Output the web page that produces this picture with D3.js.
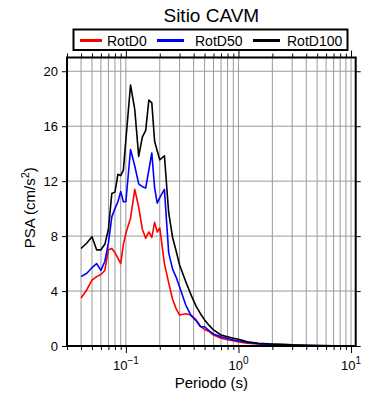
<!DOCTYPE html>
<html>
<head>
<meta charset="utf-8">
<script src="https://cdn.jsdelivr.net/npm/d3@7"></script>
<style>
  body { margin: 0; background: #fff; }
  svg { font-family: "Liberation Sans", Arial, sans-serif; }
</style>
</head>
<body>
<div id="container"></div>
<script>
// periodos (s)
const periods = [0.04, 0.045, 0.05, 0.055, 0.06, 0.065, 0.07, 0.075, 0.08, 0.085,
  0.09, 0.095, 0.1, 0.11, 0.12, 0.13, 0.14, 0.15, 0.16, 0.17,
  0.18, 0.19, 0.2, 0.22, 0.24, 0.26, 0.28, 0.3, 0.34, 0.38,
  0.42, 0.46, 0.5, 0.55, 0.6, 0.7, 0.8, 0.9, 1.0, 1.2,
  1.5, 2.0, 2.5, 3.0, 4.0, 5.0, 7.0, 10.0];

const rotD0 = [3.5, 4.1, 4.8, 5.05, 5.2, 5.5, 7.0, 7.1, 6.8, 6.4,
  6.0, 7.4, 8.2, 9.3, 11.4, 10.1, 8.5, 7.85, 8.3, 7.9,
  9.0, 8.3, 8.6, 6.0, 4.6, 3.4, 2.7, 2.25, 2.35, 2.25,
  1.9, 1.45, 1.2, 1.05, 0.8, 0.56, 0.45, 0.38, 0.3, 0.2,
  0.14, 0.09, 0.06, 0.05, 0.03, 0.02, 0.01, 0.01];

const rotD50 = [5.05, 5.3, 5.7, 6.0, 5.5, 6.15, 7.5, 9.4, 10.0, 10.5,
  11.25, 10.5, 10.5, 14.3, 13.1, 11.8, 11.6, 11.5, 12.8, 14.05,
  11.5, 10.4, 10.8, 11.4, 6.8, 5.6, 5.0, 4.3, 3.0, 2.2,
  1.85, 1.4, 1.4, 1.1, 0.88, 0.68, 0.55, 0.44, 0.38, 0.25,
  0.17, 0.11, 0.08, 0.06, 0.04, 0.03, 0.02, 0.01];

const rotD100 = [7.1, 7.5, 7.95, 7.0, 7.0, 7.4, 8.5, 11.1, 11.2, 12.5,
  12.4, 12.8, 15.0, 19.0, 17.2, 13.8, 15.2, 15.7, 17.9, 17.7,
  14.9, 14.2, 13.55, 13.85, 9.7, 7.9, 6.9, 5.9, 4.7, 3.7,
  2.9, 2.35, 1.9, 1.5, 1.17, 0.8, 0.68, 0.56, 0.49, 0.31,
  0.2, 0.15, 0.12, 0.08, 0.05, 0.03, 0.02, 0.01];

const seriesNames = ["RotD0", "RotD50", "RotD100"];
const seriesColors = ["#ff0000", "#0000ff", "#000000"];
const yTicks = [0, 4, 8, 12, 16, 20];
const xMajor = [0.1, 1, 10];
const xExp = ["\u22121", "0", "1"];

const W = 390, H = 400;
const pL = 67, pR = 355.7, pT = 57.5, pB = 346;

const svg = d3.select("#container").append("svg")
  .attr("width", W).attr("height", H);

const x = d3.scaleLog().domain([0.03, 11]).range([pL, pR]);
const y = d3.scaleLinear().domain([0, 21]).range([pB, pT]);

// grid
const xGrid = x.ticks().filter(d => d > 0.031);
svg.append("g").selectAll("line").data(xGrid).join("line")
  .attr("x1", d => x(d)).attr("x2", d => x(d))
  .attr("y1", pT).attr("y2", pB)
  .attr("stroke", "#9a9a9a").attr("stroke-width", 1);
svg.append("g").selectAll("line").data(yTicks.filter(d => d > 0)).join("line")
  .attr("x1", pL).attr("x2", pR)
  .attr("y1", d => y(d)).attr("y2", d => y(d))
  .attr("stroke", "#9a9a9a").attr("stroke-width", 1);

// curves
svg.append("clipPath").attr("id", "clip").append("rect")
  .attr("x", pL).attr("y", pT).attr("width", pR - pL).attr("height", pB - pT);

const allSeries = [rotD0, rotD50, rotD100];
const line = d3.line().x((d, i) => x(periods[i])).y(d => y(d));
svg.append("g").attr("clip-path", "url(#clip)")
  .selectAll("path").data(allSeries).join("path")
  .attr("d", d => line(d))
  .attr("fill", "none")
  .attr("stroke", (d, i) => seriesColors[i])
  .attr("stroke-width", 1.6)
  .attr("stroke-linejoin", "round");

// axes
const gB = svg.append("g").attr("transform", `translate(0,${pB})`)
  .call(d3.axisBottom(x).tickValues(x.ticks()).tickFormat("").tickSizeOuter(0).tickSize(4));
const gT = svg.append("g").attr("transform", `translate(0,${pT})`)
  .call(d3.axisTop(x).tickValues(x.ticks()).tickFormat("").tickSizeOuter(0).tickSize(4));
gB.select(".domain").remove();
gT.select(".domain").remove();
gB.selectAll(".tick line").attr("stroke", "#000").attr("y2", d => xMajor.includes(d) ? 7 : 4);
gT.selectAll(".tick line").attr("stroke", "#000").attr("y2", d => xMajor.includes(d) ? -7 : -4);

const gL = svg.append("g").attr("transform", `translate(${pL},0)`)
  .call(d3.axisLeft(y).tickValues(yTicks).tickSize(5).tickPadding(4));
gL.select(".domain").remove();
gL.selectAll(".tick text").attr("font-size", 13)
  .attr("font-family", "Liberation Sans, Arial, sans-serif").attr("fill", "#000");
const gR = svg.append("g").attr("transform", `translate(${pR},0)`)
  .call(d3.axisRight(y).tickValues(yTicks).tickSize(5).tickFormat(""));
gR.select(".domain").remove();

// x labels with exponent
const xl = svg.append("g").selectAll("text").data(xMajor).join("text")
  .attr("x", d => x(d)).attr("y", 370)
  .attr("text-anchor", "middle").attr("font-size", 13);
xl.append("tspan").text("10");
xl.append("tspan").attr("dy", -6).attr("font-size", 10).text((d, i) => xExp[i]);

// frame
svg.append("rect").attr("x", pL).attr("y", pT)
  .attr("width", pR - pL).attr("height", pB - pT)
  .attr("fill", "none").attr("stroke", "#000").attr("stroke-width", 2);

// title and labels
svg.append("text").attr("x", (pL + pR) / 2).attr("y", 22)
  .attr("text-anchor", "middle").attr("font-size", 19).text("Sitio CAVM");

svg.append("text").attr("x", (pL + pR) / 2).attr("y", 388)
  .attr("text-anchor", "middle").attr("font-size", 15).text("Periodo (s)");

const yl = svg.append("text").attr("transform", `translate(35,${(pT + pB) / 2 + 6}) rotate(-90)`)
  .attr("text-anchor", "middle").attr("font-size", 15);
yl.append("tspan").text("PSA (cm/s");
yl.append("tspan").attr("dy", -6).attr("font-size", 11).text("2");
yl.append("tspan").attr("dy", 6).text(")");

// legend
const lg = svg.append("g");
lg.append("rect").attr("x", 73.5).attr("y", 29.5).attr("width", 274).attr("height", 20.5)
  .attr("fill", "#fff").attr("stroke", "#000").attr("stroke-width", 2);
const legX = [80, 157, 253];
const legItems = lg.selectAll("g.item").data(seriesNames).join("g").attr("class", "item");
legItems.append("line")
  .attr("x1", (d, i) => legX[i]).attr("x2", (d, i) => legX[i] + (i === 0 ? 22 : 27))
  .attr("y1", 40.5).attr("y2", 40.5)
  .attr("stroke", (d, i) => seriesColors[i]).attr("stroke-width", 3);
legItems.append("text")
  .attr("x", (d, i) => [107, 195, 287][i]).attr("y", 45.5)
  .attr("font-size", 14).text(d => d);
</script>
</body>
</html>
